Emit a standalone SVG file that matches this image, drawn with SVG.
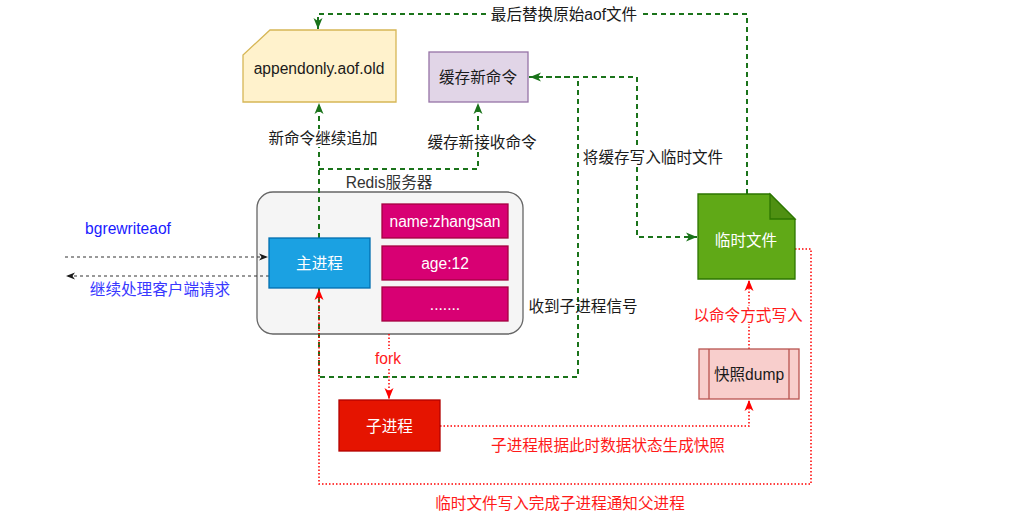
<svg xmlns="http://www.w3.org/2000/svg" width="1024" height="526" viewBox="0 0 1024 526">
<defs>
<style>
text{font-family:"Liberation Sans","Noto Sans CJK SC",sans-serif;font-size:15.6px;text-anchor:middle;dominant-baseline:central}
.w{fill:#ffffff}
.k{fill:#1a1a1a}
.r{fill:#ff1a1a}
.g{fill:none;stroke:#1a731a;stroke-width:2;stroke-dasharray:5 4}
.rd{fill:none;stroke:#ff0000;stroke-width:1.5;stroke-dasharray:1.5 2}
.bk{fill:none;stroke:#333333;stroke-width:1;stroke-dasharray:3 3}
.bg{fill:#ffffff}
</style>
<marker id="ag" markerUnits="userSpaceOnUse" markerWidth="12" markerHeight="12" refX="11" refY="5" orient="auto" viewBox="0 0 12 10">
<path d="M0,0.5 L11,5 L0,9.5 L3,5 Z" fill="#1a731a"/>
</marker>
<marker id="ar" markerUnits="userSpaceOnUse" markerWidth="12" markerHeight="12" refX="11" refY="5" orient="auto" viewBox="0 0 12 10">
<path d="M0,0.5 L11,5 L0,9.5 L3,5 Z" fill="#ff0000"/>
</marker>
<marker id="ak" markerUnits="userSpaceOnUse" markerWidth="10" markerHeight="10" refX="9" refY="4" orient="auto" viewBox="0 0 10 8">
<path d="M0,0.5 L9,4 L0,7.5 L2.5,4 Z" fill="#1a1a1a"/>
</marker>
</defs>
<rect width="1024" height="526" fill="#ffffff"/>

<g id="redis-server">
<rect x="257" y="192" width="266" height="142" rx="16" fill="#f5f5f5" stroke="#666666" stroke-width="1.3"/>
<text x="389" y="182" fill="#333333">Redis服务器</text>
</g>

<g id="connectors">
<!-- top: temp file -> appendonly -->
<path class="g" d="M747,194 V14 H318 V29" marker-end="url(#ag)"/>
<!-- main -> appendonly -->
<path class="g" d="M319,238 V103" marker-end="url(#ag)"/>
<!-- main -> cache -->
<path class="g" d="M319,169 H478 V103" marker-end="url(#ag)"/>
<!-- main bottom -> cache (signal) -->
<path class="g" d="M319,288 V377 H578 V77 H530" marker-end="url(#ag)"/>
<!-- cache -> temp file -->
<path class="g" d="M529,77 H637 V237 H697" marker-end="url(#ag)"/>
<!-- client arrows -->
<path class="bk" d="M65,257 H268" marker-end="url(#ak)"/>
<path class="bk" d="M269,276 H66" marker-end="url(#ak)"/>
<!-- fork -->
<path class="rd" d="M389,334 V399" marker-end="url(#ar)"/>
<!-- child -> dump -->
<path class="rd" d="M440,426 H749 V400" marker-end="url(#ar)"/>
<!-- dump -> temp -->
<path class="rd" d="M749,349 V280" marker-end="url(#ar)"/>
<!-- temp -> main -->
<path class="rd" d="M795,249 H811 V484 H319 V289" marker-end="url(#ar)"/>
</g>

<g id="labels">
<rect class="bg" x="488" y="5" width="152" height="18"/>
<text x="564" y="14" class="k">最后替换原始aof文件</text>
<rect class="bg" x="266" y="129" width="114" height="18"/>
<text x="323" y="138" class="k">新命令继续追加</text>
<rect class="bg" x="426" y="133" width="112" height="18"/>
<text x="482" y="142" class="k">缓存新接收命令</text>
<rect class="bg" x="582" y="148" width="143" height="18"/>
<text x="653" y="157" class="k">将缓存写入临时文件</text>
<text x="583" y="306" class="k">收到子进程信号</text>
<text x="128" y="228" fill="#1a1aff">bgrewriteaof</text>
<text x="160" y="289" fill="#3838ff">继续处理客户端请求</text>
<rect class="bg" x="373" y="349" width="32" height="18"/>
<text x="388" y="358" class="r">fork</text>
<text x="608" y="445" class="r">子进程根据此时数据状态生成快照</text>
<rect class="bg" x="692" y="306" width="112" height="18"/>
<text x="748" y="315" class="r">以命令方式写入</text>
<text x="560" y="503" class="r">临时文件写入完成子进程通知父进程</text>
</g>

<g id="appendonly-old">
<path d="M270,30 H396 V102 H243 V55 Z" fill="#fff2cc" stroke="#d6b656" stroke-width="1.3"/>
<text x="319" y="68" class="k">appendonly.aof.old</text>
</g>

<g id="cache-new-commands">
<rect x="429" y="52" width="99" height="50" fill="#e1d5e7" stroke="#9673a6" stroke-width="1.3"/>
<text x="478" y="77" class="k">缓存新命令</text>
</g>

<g id="main-process">
<rect x="269" y="238" width="101" height="50" fill="#1ba1e2" stroke="#006eaf" stroke-width="1.3"/>
<text x="319.5" y="263" class="w">主进程</text>
</g>

<g id="data-name">
<rect x="382" y="204" width="126" height="34" fill="#d80073" stroke="#a50040" stroke-width="1.3"/>
<text x="445" y="221" class="w">name:zhangsan</text>
</g>
<g id="data-age">
<rect x="382" y="246" width="126" height="34" fill="#d80073" stroke="#a50040" stroke-width="1.3"/>
<text x="445" y="263" class="w">age:12</text>
</g>
<g id="data-more">
<rect x="382" y="287" width="126" height="34" fill="#d80073" stroke="#a50040" stroke-width="1.3"/>
<text x="445" y="304" class="w">.......</text>
</g>

<g id="temp-file">
<path d="M698,194 H770 L795,219 V279 H698 Z" fill="#60a917" stroke="#2d7600" stroke-width="1.3"/>
<path d="M770,194 V219 H795 Z" fill="#4f9012" stroke="#2d7600" stroke-width="1.3"/>
<text x="746" y="240" class="w">临时文件</text>
</g>

<g id="snapshot-dump">
<rect x="699" y="349" width="100" height="50" fill="#f8cecc" stroke="#b85450" stroke-width="1.3"/>
<path d="M709,349 V399 M789,349 V399" stroke="#b85450" stroke-width="1.3"/>
<text x="749" y="374" class="k">快照dump</text>
</g>

<g id="child-process">
<rect x="339" y="400" width="101" height="51" fill="#e51400" stroke="#b20000" stroke-width="1.3"/>
<text x="389.5" y="426" class="w">子进程</text>
</g>
</svg>
